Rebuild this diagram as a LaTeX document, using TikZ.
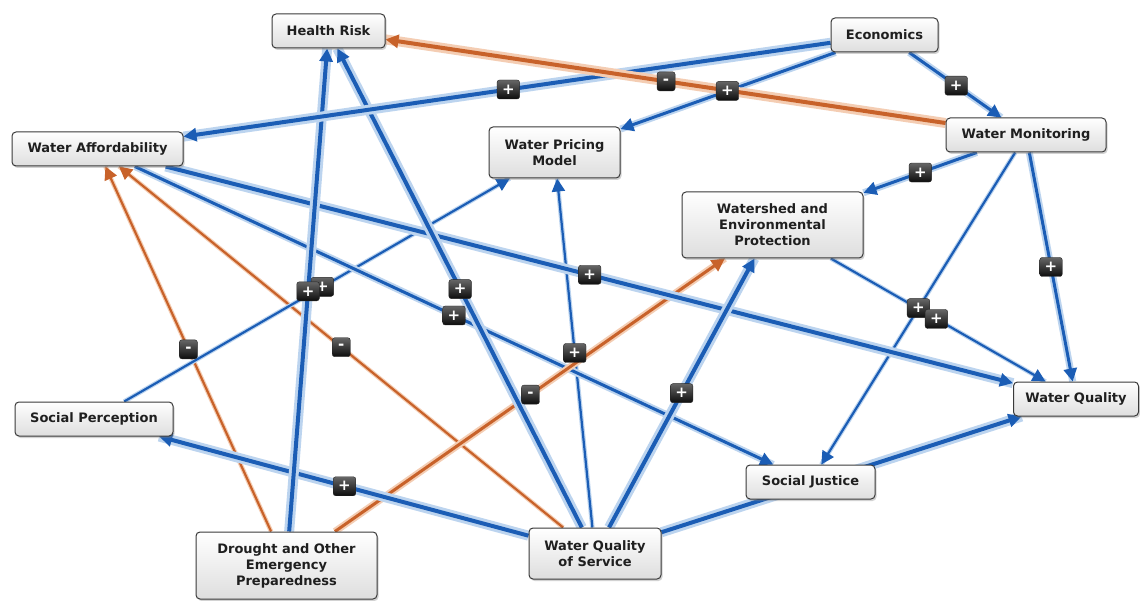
\documentclass[tikz,border=0pt]{standalone}
\usepackage{fontspec}
\setmainfont{DejaVu Sans}
\usetikzlibrary{arrows.meta,shadows,calc}
\pgfdeclarelayer{bg}
\pgfdeclarelayer{edges}
\pgfdeclarelayer{badges}
\pgfsetlayers{bg,edges,badges,main}
\definecolor{cblue}{HTML}{1B5DB5}
\definecolor{hblue}{HTML}{BCD4EF}
\definecolor{corange}{HTML}{C8622A}
\definecolor{horange}{HTML}{F4CDB3}
\definecolor{boxline}{HTML}{3A3A3A}
\tikzset{
  box/.style={draw=boxline, line width=1pt, rounded corners=4pt, top color=white, bottom color=black!13,
    drop shadow={shadow xshift=1.5pt, shadow yshift=-2pt, opacity=0.35},
    font=\fontsize{13}{16}\selectfont\bfseries, align=center, inner sep=2pt, text=black!88},
  badge/.style={rounded corners=2.5pt, top color=black!60, bottom color=black!95, draw=black!85,
    minimum width=18pt, minimum height=19pt, inner xsep=5pt, inner ysep=0pt, text=white,
    font=\fontsize{15}{15}\selectfont\bfseries},
  tipb/.style={-{Triangle[length=13pt,width=13pt]}},
  bk/.style={draw=cblue, line width=4pt, tipb, preaction={draw=hblue, line width=10pt, arrows=-}},
  bm/.style={draw=cblue, line width=3pt, tipb, preaction={draw=hblue, line width=7pt, arrows=-}},
  bt/.style={draw=cblue, line width=2.2pt, tipb, preaction={draw=hblue, line width=4.5pt, arrows=-}},
  ok/.style={draw=corange, line width=4pt, tipb, preaction={draw=horange, line width=10pt, arrows=-}},
  om/.style={draw=corange, line width=3pt, tipb, preaction={draw=horange, line width=7pt, arrows=-}},
  ot/.style={draw=corange, line width=2.2pt, tipb, preaction={draw=horange, line width=4.5pt, arrows=-}},
}
\begin{document}
\begin{tikzpicture}[x=1pt,y=-1pt]
\begin{pgfonlayer}{bg}
\fill[white] (0,0) rectangle (1140,601);
\end{pgfonlayer}
\useasboundingbox (0,0) rectangle (1140,601);
% nodes
\node[box, minimum width=113pt, minimum height=34pt] (hr) at (328.5,31) {Health Risk};
\node[box, minimum width=107pt, minimum height=34pt] (econ) at (884.5,35) {Economics};
\node[box, minimum width=171pt, minimum height=34pt] (wa) at (97.5,149) {Water Affordability};
\node[box, minimum width=131pt, minimum height=51pt] (wpm) at (554.5,152.5) {Water Pricing\\Model};
\node[box, minimum width=160pt, minimum height=34pt] (wm) at (1026,135) {Water Monitoring};
\node[box, minimum width=181pt, minimum height=66pt] (ws) at (772.5,225) {Watershed and\\Environmental\\Protection};
\node[box, minimum width=158pt, minimum height=34pt] (sp) at (94,419) {Social Perception};
\node[box, minimum width=125pt, minimum height=34pt] (wq) at (1076,399) {Water Quality};
\node[box, minimum width=129pt, minimum height=34pt] (sj) at (810.5,482) {Social Justice};
\node[box, minimum width=181pt, minimum height=67pt] (dr) at (286.5,565.5) {Drought and Other\\Emergency\\Preparedness};
\node[box, minimum width=132pt, minimum height=51pt] (wqs) at (595,553.5) {Water Quality\\of Service};
% edges
\begin{pgfonlayer}{edges}
\draw[ot] (dr) -- (wa);
\draw[ot] (wqs) -- (wa);
\draw[bt] (sp) -- (wpm);
\draw[bt] (wqs) -- (wpm);
\draw[bt] (wm) -- (sj);
\draw[bt] (ws) -- (wq);
\draw[bm] (wa) -- (sj);
\draw[bm] (econ) -- (wpm);
\draw[bm] (econ) -- (wm);
\draw[bm] (wm) -- (ws);
\draw[bm] (wm) -- (wq);
\draw[om] (dr) -- (ws);
\draw[bk] (wa) -- (wq);
\draw[bk] (wqs) -- (wq);
\draw[bk] (wqs) -- (sp);
\draw[bk] (wqs) -- (ws);
\draw[bk] (dr) -- (hr);
\draw[bk] (wqs) -- (hr);
\draw[bk] (econ) -- (wa);
\draw[ok] (wm) -- (hr);
\end{pgfonlayer}
% badges
\begin{pgfonlayer}{badges}
\node[badge] (b1) at ($(wm)!0.516!(hr)$) {-};
\node[badge] (b2) at ($(econ)!0.478!(wa)$) {+};
\node[badge] (b3) at ($(econ)!0.476!(wpm)$) {+};
\node[badge] (b4) at ($(econ)!0.507!(wm)$) {+};
\node[badge] (b5) at ($(wm)!0.417!(ws)$) {+};
\node[badge] (b6) at ($(wm)!0.5!(wq)$) {+};
\node[badge] (b7) at ($(wm)!0.499!(sj)$) {+};
\node[badge] (b8) at ($(ws)!0.54!(wq)$) {+};
\node[badge] (b9) at ($(wa)!0.503!(wq)$) {+};
\node[badge] (b10) at ($(wa)!0.5!(sj)$) {+};
\node[badge] (b11) at ($(sp)!0.496!(wpm)$) {+};
\node[badge] (b12) at ($(dr)!0.519!(wa)$) {-};
\node[badge] (b13) at ($(wqs)!0.51!(wa)$) {-};
\node[badge] (b14) at ($(dr)!0.502!(ws)$) {-};
\node[badge] (b15) at ($(wqs)!0.5!(wpm)$) {+};
\node[badge] (b16) at ($(wqs)!0.506!(hr)$) {+};
\node[badge] (b17) at ($(wqs)!0.488!(ws)$) {+};
\node[badge] (b18) at ($(wqs)!0.5!(sp)$) {+};
\node[badge] (b19) at ($(dr)!0.513!(hr)$) {+};
\end{pgfonlayer}
\end{tikzpicture}
\end{document}
